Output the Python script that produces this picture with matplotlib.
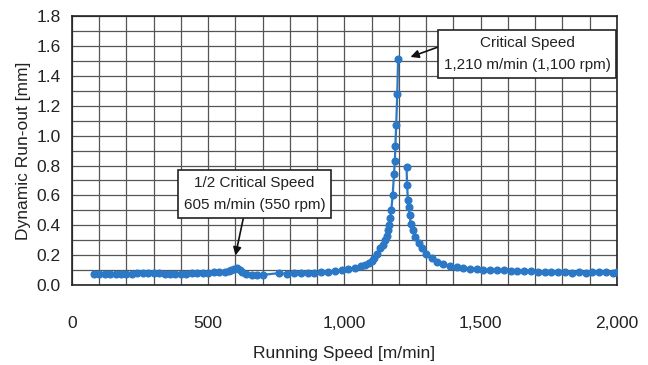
import matplotlib
matplotlib.use("Agg")
import matplotlib.pyplot as plt

plt.rcParams['font.family'] = ['Liberation Sans', 'DejaVu Sans']

# ---- data ----
speed_low = [80, 100, 120, 140, 160, 180, 200, 220, 240, 260, 280, 300, 320, 340, 360,
             380, 400, 420, 440, 460, 480, 500, 520, 540, 560, 575, 585, 595, 605, 615,
             625, 640, 660, 680, 700, 760, 790, 815, 840, 865, 890, 915, 940, 965, 990,
             1015, 1040, 1060, 1075, 1090, 1100, 1110, 1120, 1130, 1140, 1148, 1155, 1160,
             1164, 1168, 1172, 1177, 1182, 1185, 1187, 1190, 1194, 1197]
runout_low = [0.075, 0.075, 0.076, 0.076, 0.077, 0.077, 0.077, 0.077, 0.078, 0.078, 0.078,
              0.078, 0.078, 0.077, 0.077, 0.076, 0.075, 0.077, 0.078, 0.080, 0.080, 0.082,
              0.085, 0.088, 0.090, 0.095, 0.100, 0.110, 0.115, 0.100, 0.090, 0.075, 0.070,
              0.068, 0.068, 0.080, 0.075, 0.078, 0.080, 0.082, 0.083, 0.085, 0.088, 0.092,
              0.098, 0.105, 0.115, 0.125, 0.135, 0.150, 0.160, 0.180, 0.210, 0.245, 0.270,
              0.300, 0.330, 0.370, 0.400, 0.450, 0.500, 0.600, 0.740, 0.830, 0.930, 1.070,
              1.280, 1.510]
speed_high = [1228, 1230, 1233, 1236, 1239, 1244, 1250, 1260, 1272, 1284, 1300, 1320, 1340,
              1363, 1387, 1412, 1436, 1460, 1485, 1510, 1535, 1560, 1585, 1610, 1635, 1660,
              1685, 1710, 1735, 1760, 1785, 1810, 1835, 1860, 1885, 1910, 1935, 1960, 1985, 2000]
runout_high = [0.790, 0.670, 0.570, 0.520, 0.470, 0.410, 0.370, 0.320, 0.280, 0.250, 0.210,
               0.180, 0.156, 0.140, 0.128, 0.120, 0.115, 0.110, 0.105, 0.102, 0.100, 0.100,
               0.098, 0.097, 0.095, 0.093, 0.092, 0.090, 0.088, 0.087, 0.085, 0.085, 0.083,
               0.085, 0.083, 0.090, 0.090, 0.088, 0.082, 0.090]

x_ticks = [0, 500, 1000, 1500, 2000]
x_tick_labels = ["0", "500", "1,000", "1,500", "2,000"]
y_ticks = [0.0, 0.2, 0.4, 0.6, 0.8, 1.0, 1.2, 1.4, 1.6, 1.8]
y_tick_labels = ["0.0", "0.2", "0.4", "0.6", "0.8", "1.0", "1.2", "1.4", "1.6", "1.8"]

note_half = "1/2 Critical Speed\n605 m/min (550 rpm)"
note_crit = "Critical Speed\n1,210 m/min (1,100 rpm)"

# ---- figure ----
fig = plt.figure(figsize=(6.48, 3.65), dpi=100)
ax = fig.add_axes([0.111, 0.219, 0.841, 0.737])

blue = "#2a78c6"
for xs, ys in [(speed_low, runout_low), (speed_high, runout_high)]:
    ax.plot(xs, ys, color=blue, lw=1.6, marker='o', ms=4.8, mec=blue, mfc=blue, zorder=3)

ax.set_xlim(0, 2000)
ax.set_ylim(0, 1.8)
ax.set_xticks(x_ticks, labels=x_tick_labels)
ax.set_xticks(range(0, 2001, 100), minor=True)
ax.set_yticks(y_ticks, labels=y_tick_labels)
ax.set_yticks([i * 0.1 for i in range(19)], minor=True)
ax.grid(True, which='both', color="#555555", lw=0.9)
ax.tick_params(axis='both', which='both', length=0, labelsize=12.5, colors="#222222")
ax.tick_params(axis='x', pad=22)
ax.tick_params(axis='y', pad=8)
for s in ax.spines.values():
    s.set_color("#222222")
    s.set_linewidth(1.2)

ax.set_xlabel("Running Speed [m/min]", fontsize=12.5, color="#222222", labelpad=11)
ax.set_ylabel("Dynamic Run-out [mm]", fontsize=12.5, color="#222222", labelpad=4)

bbox = dict(boxstyle="square,pad=0.38", fc="white", ec="#222222", lw=1.2)
ax.annotate(note_half, xy=(598, 0.18), xytext=(670, 0.609), ha='center', va='center',
            fontsize=11, linespacing=1.75, color="#222222", bbox=bbox, zorder=5,
            arrowprops=dict(arrowstyle='-|>', color="#111111", lw=1.2, mutation_scale=12,
                            relpos=(0.43, 0.0), shrinkA=0, shrinkB=2))
ax.annotate(note_crit, xy=(1233, 1.52), xytext=(1671, 1.546), ha='center', va='center',
            fontsize=11, linespacing=1.75, color="#222222", bbox=bbox, zorder=5,
            arrowprops=dict(arrowstyle='-|>', color="#111111", lw=1.2, mutation_scale=12,
                            relpos=(0.0, 0.75), shrinkA=0, shrinkB=2))

fig.savefig("out.png", dpi=100)
